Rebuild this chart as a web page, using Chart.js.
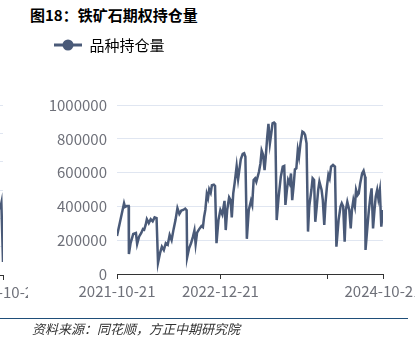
<!DOCTYPE html>
<html>
<head>
<meta charset="utf-8">
<script src="https://cdn.jsdelivr.net/npm/chart.js@4.4.1/dist/chart.umd.min.js"></script>
<style>
  html, body { margin: 0; padding: 0; background: #fff; }
  body { width: 415px; height: 349px; overflow: hidden; position: relative; font-family: 'Noto Sans CJK SC', 'Noto Sans', sans-serif; }
  #title { position: absolute; left: 30px; top: 6px; font-size: 15px; font-weight: bold; line-height: 18px; color: #000; white-space: nowrap; }
  #mainWrap { position: absolute; left: 44px; top: 0; width: 371px; height: 349px; }
  #prevWrap { position: absolute; left: -260px; top: 0; width: 288px; height: 349px; }
  #source { position: absolute; left: 0; top: 318px; width: 408px; border-top: 1.5px solid #1f4e79; }
  #source div { position: absolute; left: 32px; top: 2px; font-size: 13px; line-height: 16px; font-style: italic; color: #333; white-space: nowrap; }
</style>
</head>
<body>
<div id="title">图18：铁矿石期权持仓量</div>
<div id="prevWrap"><canvas id="prevChart"></canvas></div>
<div id="mainWrap"><canvas id="mainChart"></canvas></div>
<div id="source"><div>资料来源：同花顺，方正中期研究院</div></div>
<script>
// 铁矿石期权持仓量
const dates = [
  '2021-10-21','2021-11-19','2021-11-23','2021-11-30','2021-12-08','2021-12-09','2021-12-16','2021-12-27',
  '2022-01-07','2022-01-12','2022-01-20','2022-01-29','2022-02-05','2022-02-10','2022-02-16','2022-02-21',
  '2022-03-01','2022-03-09','2022-03-17','2022-03-25','2022-04-02','2022-04-08','2022-04-16','2022-04-24',
  '2022-05-02','2022-05-10','2022-05-18','2022-05-26','2022-06-03','2022-06-11','2022-06-19','2022-06-27',
  '2022-07-05','2022-07-13','2022-07-21','2022-07-29','2022-08-04','2022-08-06','2022-08-14','2022-08-22',
  '2022-08-30','2022-09-05','2022-09-10','2022-09-16','2022-09-24','2022-10-04','2022-10-10','2022-10-15',
  '2022-10-20','2022-10-26','2022-10-31','2022-11-05','2022-11-11','2022-11-16','2022-11-24','2022-11-29',
  '2022-12-05','2022-12-13','2022-12-21','2022-12-29','2023-01-07','2023-01-12','2023-01-18','2023-01-26',
  '2023-02-01','2023-02-06','2023-02-12','2023-02-18','2023-02-26','2023-03-04','2023-03-09','2023-03-15',
  '2023-03-23','2023-03-29','2023-04-03','2023-04-09','2023-04-17','2023-04-26','2023-05-01','2023-05-07',
  '2023-05-13','2023-05-18','2023-05-29','2023-06-04','2023-06-09','2023-06-15','2023-06-21','2023-06-26',
  '2023-07-02','2023-07-07','2023-07-13','2023-07-19','2023-07-24','2023-07-30','2023-08-04','2023-08-10',
  '2023-08-18','2023-08-27','2023-09-04','2023-09-10','2023-09-15','2023-09-21','2023-09-26','2023-10-02',
  '2023-10-08','2023-10-13','2023-10-19','2023-10-24','2023-10-30','2023-11-05','2023-11-10','2023-11-16',
  '2023-11-24','2023-11-30','2023-12-05','2023-12-11','2023-12-17','2023-12-22','2023-12-31','2024-01-05',
  '2024-01-11','2024-01-16','2024-01-22','2024-01-28','2024-02-02','2024-02-11','2024-02-16','2024-02-22',
  '2024-02-27','2024-03-04','2024-03-10','2024-03-15','2024-03-21','2024-03-29','2024-04-06','2024-04-12',
  '2024-04-21','2024-04-29','2024-05-04','2024-05-10','2024-05-16','2024-05-21','2024-05-27','2024-06-04',
  '2024-06-10','2024-06-15','2024-06-21','2024-06-27','2024-07-02','2024-07-08','2024-07-13','2024-07-19',
  '2024-07-27','2024-08-02','2024-08-08','2024-08-10','2024-08-19','2024-08-24','2024-08-30','2024-09-04',
  '2024-09-10','2024-09-16','2024-09-21','2024-09-27','2024-10-02','2024-10-08','2024-10-14','2024-10-21'
];
const openInterest = [
  225000,418000,397000,402000,402000,118000,183000,237000,
  243000,178000,221000,243000,266000,262000,290000,324000,
  301000,324000,312000,335000,331000,67000,122000,162000,
  142000,182000,173000,231000,201000,264000,319000,389000,
  355000,375000,379000,387000,377000,98000,152000,182000,
  221000,257000,178000,245000,264000,284000,277000,339000,
  379000,473000,449000,501000,481000,525000,529000,521000,
  182000,319000,379000,352000,433000,260000,379000,453000,
  437000,335000,477000,541000,639000,561000,615000,678000,
  710000,714000,694000,208000,379000,433000,409000,556000,
  566000,546000,605000,654000,730000,705000,615000,694000,
  812000,888000,773000,836000,892000,896000,889000,319000,
  457000,576000,635000,639000,409000,497000,557000,536000,
  595000,437000,526000,619000,625000,734000,694000,773000,
  842000,836000,823000,773000,251000,399000,497000,566000,
  556000,309000,399000,497000,546000,497000,437000,290000,
  418000,517000,586000,566000,635000,645000,635000,162000,
  319000,399000,418000,399000,191000,379000,427000,379000,
  270000,379000,437000,399000,497000,466000,476000,536000,
  595000,611000,576000,142000,300000,379000,457000,507000,
  270000,379000,457000,497000,446000,497000,280000,379000
];
const axisTickDates = ['2021-10-21', '2022-12-21', '2024-03-05', '2024-10-21'];
const axisTickLabels = ['2021-10-21', '2022-12-21', '', '2024-10-21'];
const yMax = 1000000;
const yStep = 200000;

// right edge of the neighbouring chart, cut off at the left border
const prevDates = ['2024-10-08', '2024-10-14', '2024-10-21'];
const prevValues = [230000, 254000, 46000];
const prevTickDates = ['2024-10-21'];
const prevTickLabels = ['2024-10-21'];

const lineColor = '#4a5a78';
const labelColor = '#6E7079';
const gridColor = '#E0E6F1';
const axisColor = '#333';

Chart.defaults.font.family = "'Noto Sans CJK SC', 'Noto Sans', sans-serif";
Chart.defaults.font.size = 15;

const toDay = s => Date.parse(s) / 86400000;

// legend marker: line with a dot
const legendIcon = document.createElement('canvas');
legendIcon.width = 28;
legendIcon.height = 14;
(function () {
  const c = legendIcon.getContext('2d');
  c.strokeStyle = lineColor;
  c.lineWidth = 3;
  c.beginPath();
  c.moveTo(0, 7);
  c.lineTo(28, 7);
  c.stroke();
  c.fillStyle = lineColor;
  c.beginPath();
  c.arc(14, 7, 5.5, 0, Math.PI * 2);
  c.fill();
})();

const legendGap = {
  id: 'legendGap',
  beforeInit(chart) {
    if (!chart.legend) return;
    const fit = chart.legend.fit;
    chart.legend.fit = function () {
      fit.call(this);
      this.height += 42.5;
    };
  }
};

function xScale(tickDates, tickLabels) {
  return {
    type: 'linear',
    min: toDay('2021-10-21'),
    max: toDay('2024-10-21'),
    afterBuildTicks: scale => { scale.ticks = tickDates.map(d => ({ value: toDay(d) })); },
    afterFit: scale => { scale.paddingLeft = 0; scale.paddingRight = 0; scale.height = 30; },
    ticks: {
      callback: (v, i) => tickLabels[i],
      autoSkip: false,
      maxRotation: 0,
      color: labelColor,
      padding: 3
    },
    grid: { drawOnChartArea: false, drawTicks: true, tickLength: 5, color: axisColor },
    border: { color: axisColor, width: 1 }
  };
}

new Chart(document.getElementById('mainChart'), {
  type: 'line',
  data: {
    datasets: [{
      label: '品种持仓量',
      data: dates.map((d, i) => ({ x: toDay(d), y: openInterest[i] })),
      borderColor: lineColor,
      backgroundColor: lineColor,
      borderWidth: 2.5,
      pointRadius: 0,
      tension: 0
    }]
  },
  options: {
    responsive: true,
    maintainAspectRatio: false,
    animation: false,
    layout: { padding: { top: 27.5, right: 32, bottom: 45, left: 0 } },
    plugins: {
      tooltip: { enabled: false },
      legend: {
        position: 'top',
        align: 'start',
        labels: {
          usePointStyle: true,
          pointStyleWidth: 28,
          padding: 10,
          color: '#595959',
          font: { size: 15 },
          generateLabels: () => [{
            text: '品种持仓量',
            pointStyle: legendIcon,
            fillStyle: lineColor,
            strokeStyle: lineColor,
            lineWidth: 0,
            datasetIndex: 0
          }]
        }
      }
    },
    scales: {
      x: xScale(axisTickDates, axisTickLabels),
      y: {
        min: 0,
        max: yMax,
        afterFit: scale => { scale.width = 73; },
        ticks: { stepSize: yStep, color: labelColor, padding: 10, callback: v => String(v) },
        grid: { color: gridColor, drawTicks: false },
        border: { display: false }
      }
    }
  },
  plugins: [legendGap]
});

new Chart(document.getElementById('prevChart'), {
  type: 'line',
  data: {
    datasets: [{
      data: prevDates.map((d, i) => ({ x: toDay(d), y: prevValues[i] })),
      borderColor: lineColor,
      borderWidth: 2.5,
      pointRadius: 0,
      tension: 0
    }]
  },
  options: {
    responsive: true,
    maintainAspectRatio: false,
    animation: false,
    layout: { padding: { top: 105, right: 25, bottom: 44, left: 0 } },
    plugins: { legend: { display: false }, tooltip: { enabled: false } },
    scales: {
      x: xScale(prevTickDates, prevTickLabels),
      y: {
        min: 0,
        max: 600000,
        afterFit: scale => { scale.width = 10; },
        ticks: { display: false, stepSize: 100000 },
        grid: { color: gridColor, drawTicks: false },
        border: { display: false }
      }
    }
  }
});
</script>
</body>
</html>
